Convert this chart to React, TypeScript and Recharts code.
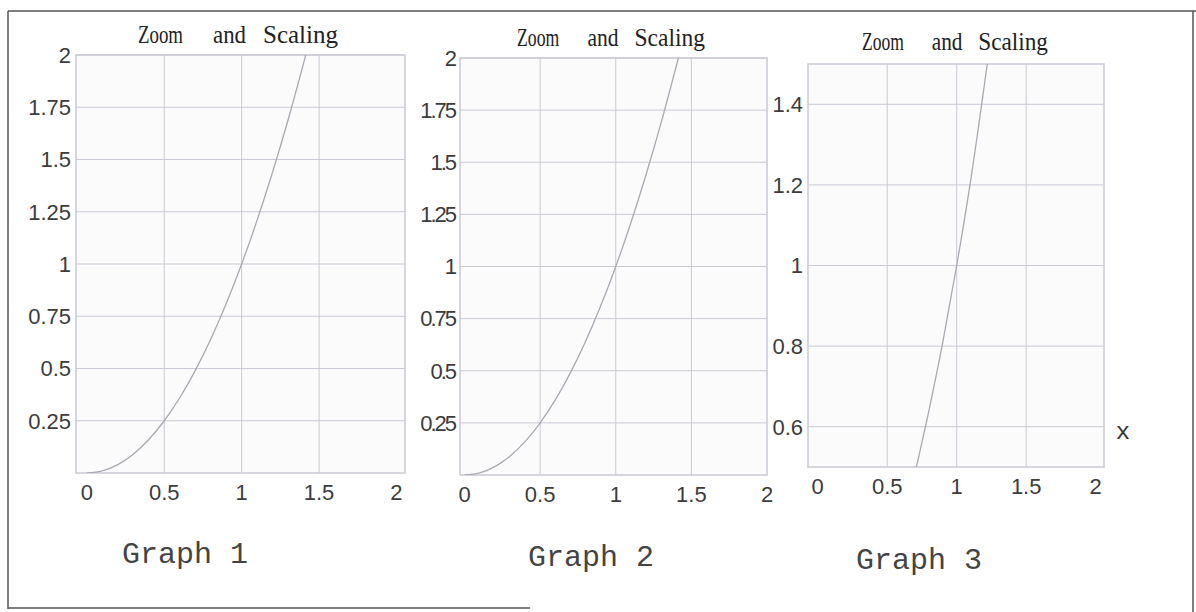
import React from 'react';
import { LineChart, Line, XAxis, YAxis, CartesianGrid, ReferenceArea } from 'recharts';

// values (same curve in graphs 1 and 2, zoomed in graph 3)
const curveX = [0, 0.1, 0.2, 0.3, 0.4, 0.5, 0.6, 0.7, 0.8, 0.9, 1, 1.1, 1.2, 1.3, 1.414];
const curveY = [0, 0.01, 0.04, 0.09, 0.16, 0.25, 0.36, 0.49, 0.64, 0.81, 1, 1.21, 1.44, 1.69, 2];
const zoomX = [0.71, 0.8, 0.9, 1, 1.1, 1.22];
const zoomY = [0.5, 0.64, 0.81, 1, 1.21, 1.5];

const xTicks = [0, 0.5, 1, 1.5, 2];
const yTicksWide = [0.25, 0.5, 0.75, 1, 1.25, 1.5, 1.75, 2];
const yTicksZoom = [0.6, 0.8, 1, 1.2, 1.4];
const gridX = [0.5, 1, 1.5];
const titleWords = ['Zoom', 'and', 'Scaling'];
const captions = ['Graph 1', 'Graph 2', 'Graph 3'];

const curveData = curveX.map((x, i) => ({ x, y: curveY[i] }));
const zoomData = zoomX.map((x, i) => ({ x, y: zoomY[i] }));

const COLORS = {
  grid: '#c9cad3',
  curve: '#a9a9b2',
  text: '#3c3c3c',
  plotBg: '#fbfbfc',
  frame: '#555555',
};

const TICK_FONT = { fill: COLORS.text, fontSize: 22, fontFamily: 'Liberation Sans' };

// word start offsets / widths of the title, for a 200px wide title
const WORD_X = [0, 75, 125];
const WORD_W = [45, 33, 75];

type PanelProps = {
  left: number;
  width: number;
  yWidth: number;
  margin: { top: number; right: number; bottom: number; left: number };
  xDomain: [number, number];
  yDomain: [number, number];
  yTicks: number[];
  data: { x: number; y: number }[];
  tightY?: boolean;
};

const Panel = ({ left, width, yWidth, margin, xDomain, yDomain, yTicks, data, tightY }: PanelProps) => (
  <div style={{ position: 'absolute', left, top: 0 }}>
    <LineChart width={width} height={530} data={data} margin={margin}>
      <CartesianGrid
        stroke={COLORS.grid}
        fill={COLORS.plotBg}
        verticalValues={gridX}
        horizontalValues={yTicks}
      />
      <XAxis
        type="number"
        dataKey="x"
        domain={xDomain}
        ticks={xTicks}
        allowDataOverflow
        axisLine={false}
        tickLine={false}
        tickSize={0}
        tickMargin={11}
        height={30}
        interval={0}
        tick={TICK_FONT}
      />
      <YAxis
        type="number"
        dataKey="y"
        domain={yDomain}
        ticks={yTicks}
        allowDataOverflow
        axisLine={false}
        tickLine={false}
        tickSize={0}
        tickMargin={5}
        width={yWidth}
        interval={0}
        tick={{ ...TICK_FONT, letterSpacing: tightY ? -2 : 0 }}
      />
      <ReferenceArea
        x1={xDomain[0]}
        x2={xDomain[1]}
        y1={yDomain[0]}
        y2={yDomain[1]}
        fill="none"
        stroke={COLORS.grid}
        strokeWidth={1.5}
      />
      <Line
        type="monotone"
        dataKey="y"
        stroke={COLORS.curve}
        strokeWidth={1.3}
        dot={false}
        isAnimationActive={false}
      />
    </LineChart>
  </div>
);

const Title = ({ x0, w, y }: { x0: number; w: number; y: number }) => {
  const s = w / 200;
  return (
    <g>
      {titleWords.map((word, i) => (
        <text
          key={word}
          x={x0 + WORD_X[i] * s}
          y={y}
          fontFamily="Liberation Serif"
          fontSize={25}
          fill="#222"
          textLength={WORD_W[i] * s}
          lengthAdjust="spacingAndGlyphs"
        >
          {word}
        </text>
      ))}
    </g>
  );
};

export default function App() {
  return (
    <div style={{ position: 'absolute', left: 0, top: 0, width: 1196, height: 612, background: '#fff' }}>
      <Panel
        left={0}
        width={420}
        yWidth={60}
        margin={{ top: 55, right: 15, bottom: 27, left: 16 }}
        xDomain={[-0.07, 2.055]}
        yDomain={[0, 2]}
        yTicks={yTicksWide}
        data={curveData}
      />
      <Panel
        left={400}
        width={380}
        yWidth={55}
        margin={{ top: 58, right: 13, bottom: 25, left: 5 }}
        xDomain={[-0.03, 2]}
        yDomain={[0, 2]}
        yTicks={yTicksWide}
        data={curveData}
        tightY
      />
      <Panel
        left={760}
        width={380}
        yWidth={42}
        margin={{ top: 64, right: 36, bottom: 33, left: 6 }}
        xDomain={[-0.07, 2.06]}
        yDomain={[0.5, 1.5]}
        yTicks={yTicksZoom}
        data={zoomData}
      />
      <svg
        width={1196}
        height={612}
        style={{ position: 'absolute', left: 0, top: 0, pointerEvents: 'none' }}
      >
        {/* frame */}
        <line x1={8} y1={11} x2={1196} y2={11} stroke={COLORS.frame} strokeWidth={1.5} />
        <line x1={8} y1={11} x2={8} y2={609} stroke={COLORS.frame} strokeWidth={1.5} />
        <line x1={8} y1={608} x2={530} y2={608} stroke={COLORS.frame} strokeWidth={1.5} />
        <line x1={1193} y1={11} x2={1193} y2={612} stroke={COLORS.frame} strokeWidth={1.5} />

        <Title x0={138} w={200} y={43} />
        <Title x0={517} w={188} y={46} />
        <Title x0={862} w={186} y={50} />

        {[185, 591, 919].map((cx, i) => (
          <text
            key={`g${i}`}
            x={cx}
            y={563 + i * 3}
            textAnchor="middle"
            fontFamily="Liberation Mono"
            fontSize={30}
            fill="#444"
          >
            {captions[i]}
          </text>
        ))}
        <text x={1123} y={439} textAnchor="middle" fontFamily="Liberation Mono" fontSize={24} fill="#333">
          x
        </text>
      </svg>
    </div>
  );
}
